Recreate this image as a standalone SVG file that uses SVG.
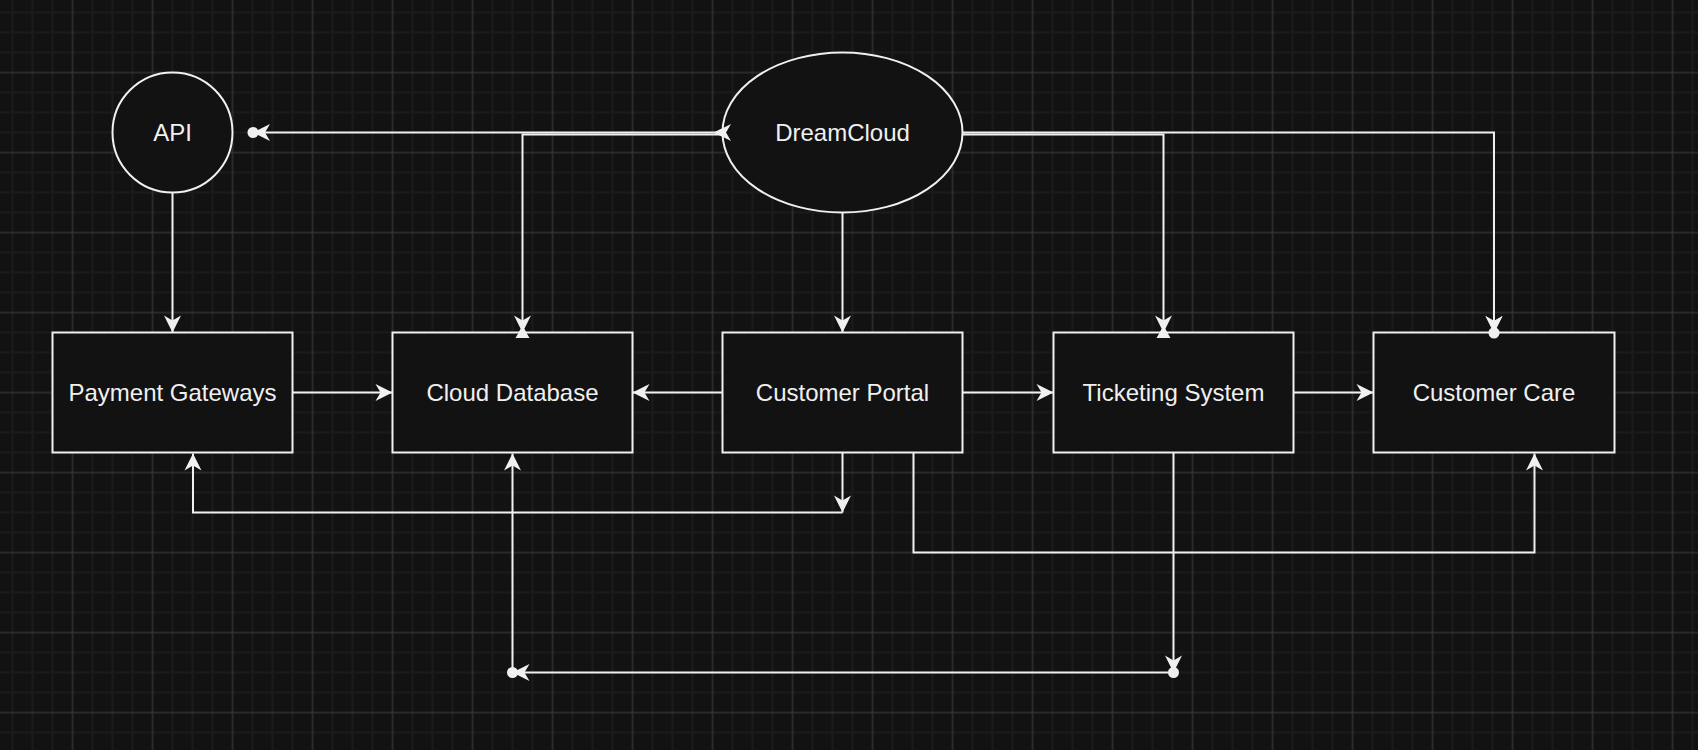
<svg xmlns="http://www.w3.org/2000/svg" width="1698" height="750" viewBox="0 0 1698 750">
  <style>
    .node { fill: #121212; stroke: #f0f0f0; stroke-width: 2; }
    .lbl { font-family: "Liberation Sans", Arial, Helvetica, sans-serif; font-size: 24px; fill: #f0f0f0; text-anchor: middle; }
    .edge { fill: none; stroke: #f0f0f0; stroke-width: 2; }
    .mk { fill: #f0f0f0; stroke: none; }
  </style>
  <defs>
    <pattern id="grid" patternUnits="userSpaceOnUse" x="-17.5" y="-17.5" width="80" height="80">
      <rect x="0" y="0" width="80" height="80" fill="#121212"/>
      <rect x="29" y="0" width="2" height="80" fill="#1b1b1b"/>
      <rect x="49" y="0" width="2" height="80" fill="#1b1b1b"/>
      <rect x="69" y="0" width="2" height="80" fill="#1b1b1b"/>
      <rect x="0" y="29" width="80" height="2" fill="#1b1b1b"/>
      <rect x="0" y="49" width="80" height="2" fill="#1b1b1b"/>
      <rect x="0" y="69" width="80" height="2" fill="#1b1b1b"/>
      <rect x="9.5" y="0" width="1.2" height="80" fill="#383838"/>
      <rect x="0" y="9.5" width="80" height="1.2" fill="#383838"/>
    </pattern>
    <marker id="arrow" markerUnits="userSpaceOnUse" viewBox="-20 -12 24 24" refX="0" refY="0" markerWidth="24" markerHeight="24" orient="auto" overflow="visible">
      <path class="mk" d="M0,0 L-17,-8.5 L-12,0 L-17,8.5 Z"/>
    </marker>
    <marker id="arrowC" markerUnits="userSpaceOnUse" viewBox="-12 -12 24 24" refX="0" refY="0" markerWidth="24" markerHeight="24" orient="auto" overflow="visible">
      <path class="mk" d="M8.5,0 L-8.5,-8.5 L-3.5,0 L-8.5,8.5 Z"/>
    </marker>
    <marker id="arrowDot" markerUnits="userSpaceOnUse" viewBox="-20 -12 28 24" refX="0" refY="0" markerWidth="28" markerHeight="24" orient="auto" overflow="visible">
      <path class="mk" d="M0,0 L-17,-8.5 L-12,0 L-17,8.5 Z"/>
      <circle class="mk" cx="0" cy="0" r="5.5"/>
    </marker>
    <marker id="hourglass" markerUnits="userSpaceOnUse" viewBox="-20 -12 28 24" refX="0" refY="0" markerWidth="28" markerHeight="24" orient="auto" overflow="visible">
      <path class="mk" d="M0,0 L-17,-8.5 L-12,0 L-17,8.5 Z"/>
      <path class="mk" d="M-6.5,0 L5.5,-7 L5.5,7 Z"/>
    </marker>
  </defs>

  <rect x="0" y="0" width="1698" height="750" fill="url(#grid)"/>

  <g id="connectors">
    <path class="edge" d="M172.5,192.5 V332.5" marker-end="url(#arrow)"/>
    <path class="edge" d="M722.5,132.5 H253" marker-start="url(#arrowC)" marker-end="url(#arrowDot)"/>
    <path class="edge" d="M722.5,134.5 H522.5 V332.5" marker-end="url(#hourglass)"/>
    <path class="edge" d="M842.5,212.5 V332.5" marker-end="url(#arrow)"/>
    <path class="edge" d="M962.5,134.5 H1163.5 V332.5" marker-end="url(#hourglass)"/>
    <path class="edge" d="M962.5,132.5 H1494 V333" marker-end="url(#arrowDot)"/>
    <path class="edge" d="M292.5,392.5 H392.5" marker-end="url(#arrow)"/>
    <path class="edge" d="M722.5,392.5 H632.5" marker-end="url(#arrow)"/>
    <path class="edge" d="M962.5,392.5 H1053.5" marker-end="url(#arrow)"/>
    <path class="edge" d="M1293.5,392.5 H1373.5" marker-end="url(#arrow)"/>
    <path class="edge" d="M842.5,452.5 V512.5" marker-end="url(#arrow)"/>
    <path class="edge" d="M842.5,512.5 H193 V453.5" marker-end="url(#arrow)"/>
    <path class="edge" d="M913.5,452.5 V552.5 H1534.5 V453.5" marker-end="url(#arrow)"/>
    <path class="edge" d="M1173.5,452.5 V672.5" marker-end="url(#arrowDot)"/>
    <path class="edge" d="M1173.5,672.5 H512.5" marker-end="url(#arrowDot)"/>
    <path class="edge" d="M512.5,672.5 V453.5" marker-end="url(#arrow)"/>
  </g>

  <g id="api">
    <circle class="node" cx="172.5" cy="132.5" r="60"/>
    <text class="lbl" x="172.5" y="141">API</text>
  </g>
  <g id="dreamcloud">
    <ellipse class="node" cx="842.5" cy="132.5" rx="120" ry="80"/>
    <text class="lbl" x="842.5" y="141">DreamCloud</text>
  </g>
  <g id="payment-gateways">
    <rect class="node" x="52.5" y="332.5" width="240" height="120"/>
    <text class="lbl" x="172.5" y="401">Payment Gateways</text>
  </g>
  <g id="cloud-database">
    <rect class="node" x="392.5" y="332.5" width="240" height="120"/>
    <text class="lbl" x="512.5" y="401">Cloud Database</text>
  </g>
  <g id="customer-portal">
    <rect class="node" x="722.5" y="332.5" width="240" height="120"/>
    <text class="lbl" x="842.5" y="401">Customer Portal</text>
  </g>
  <g id="ticketing-system">
    <rect class="node" x="1053.5" y="332.5" width="240" height="120"/>
    <text class="lbl" x="1173.5" y="401">Ticketing System</text>
  </g>
  <g id="customer-care">
    <rect class="node" x="1373.5" y="332.5" width="241" height="120"/>
    <text class="lbl" x="1494" y="401">Customer Care</text>
  </g>

  <g id="overlay-markers">
    <circle class="mk" cx="1494" cy="333" r="5.5"/>
    <path class="mk" d="M1494,333 L1485.5,316 L1494,321 L1502.5,316 Z"/>
    <path class="mk" d="M522.5,326 L515.5,338 L529.5,338 Z"/>
    <path class="mk" d="M1163.5,326 L1156.5,338 L1170.5,338 Z"/>
    <path class="mk" d="M714,132.5 L731,124 L726,132.5 L731,141 Z"/>
  </g>
</svg>
